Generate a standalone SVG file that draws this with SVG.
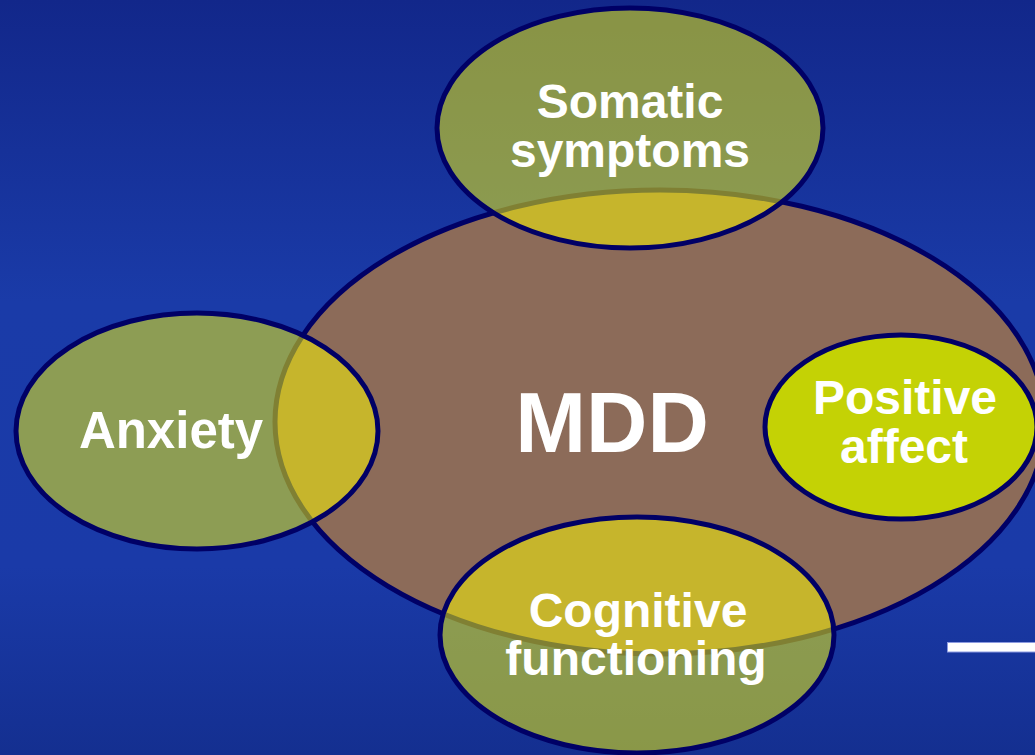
<svg xmlns="http://www.w3.org/2000/svg" width="1035" height="755" viewBox="0 0 1035 755">
  <defs>
    <linearGradient id="bg" x1="0" y1="0" x2="0" y2="1">
      <stop offset="0" stop-color="#12278a"/>
      <stop offset="0.4" stop-color="#1a3ba8"/>
      <stop offset="0.75" stop-color="#1a3aa8"/>
      <stop offset="1" stop-color="#142f90"/>
    </linearGradient>
    <style>
      .edge { stroke: #000066; stroke-width: 5; }
      .over { fill: #ffff00; fill-opacity: 0.5; }
      .lbl { font-family: "Liberation Sans", Arial, sans-serif; font-weight: bold; fill: #ffffff; text-anchor: middle; }
    </style>
  </defs>
  <rect x="0" y="0" width="1035" height="755" fill="url(#bg)"/>
  <g id="mdd">
    <ellipse cx="660" cy="422" rx="385" ry="232" fill="#8c6b59" class="edge"/>
    <text class="lbl" x="612" y="452" font-size="85">MDD</text>
  </g>
  <g id="positive-affect">
    <ellipse cx="901" cy="427" rx="136" ry="92" fill="#c4d205" class="edge"/>
    <text class="lbl" x="905" y="414" font-size="48">Positive</text>
    <text class="lbl" x="904" y="463" font-size="48">affect</text>
  </g>
  <g id="somatic">
    <ellipse cx="630" cy="128" rx="193" ry="120" class="over edge"/>
    <text class="lbl" x="630" y="118" font-size="48">Somatic</text>
    <text class="lbl" x="630" y="167" font-size="48">symptoms</text>
  </g>
  <g id="anxiety">
    <ellipse cx="197" cy="431" rx="181" ry="118" class="over edge"/>
    <text class="lbl" x="171" y="448" font-size="51">Anxiety</text>
  </g>
  <g id="cognitive">
    <ellipse cx="637" cy="635" rx="197" ry="118" class="over edge"/>
    <text class="lbl" x="638" y="627" font-size="48">Cognitive</text>
    <text class="lbl" x="636" y="675" font-size="48">functioning</text>
  </g>
  <g id="connectors"/>
  <rect x="947.5" y="642.5" width="90" height="9.5" fill="#ffffff" stroke="#8c9ae0" stroke-width="1"/>
</svg>
